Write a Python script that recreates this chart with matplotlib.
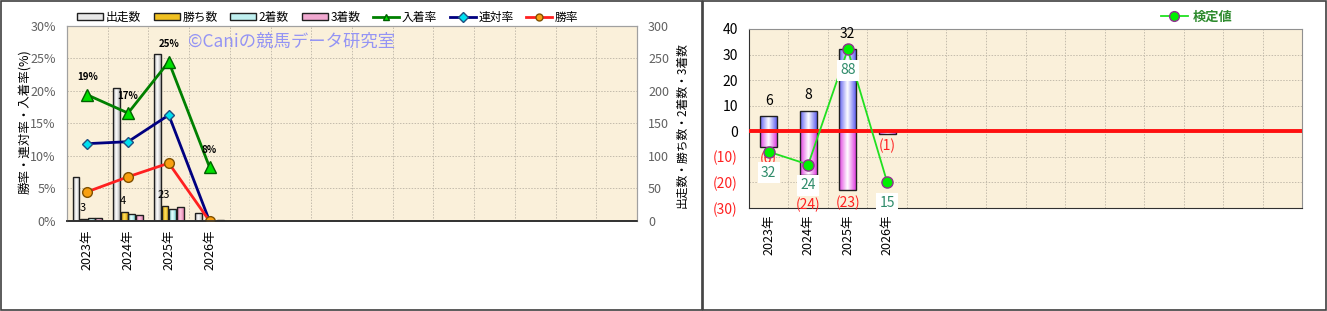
import numpy as np
import matplotlib
matplotlib.use('Agg')
import matplotlib.pyplot as plt
from matplotlib.colors import LinearSegmentedColormap
from matplotlib.patches import Rectangle
from matplotlib.lines import Line2D

plt.rcParams['font.family'] = ['Noto Sans CJK JP', 'DejaVu Sans']

# data
years = ['2023年', '2024年', '2025年', '2026年']
nCats = 14
runs = [67, 205, 257, 12]
wins = [3, 14, 23, 0]
winLabels = ['3', '4', '23', '']   # as printed on the chart
seconds = [5, 11, 19, 0]
thirds = [5, 9, 21, 1]
placeRate = [19.4, 16.6, 24.5, 8.3]
rentaiRate = [11.9, 12.2, 16.3, 0.0]
winRate = [4.5, 6.8, 8.9, 0.0]
placeLabels = ['19%', '17%', '25%', '8%']

posVals = [6, 8, 32, 0]
negVals = [-6, -17, -23, -1]
negLabels = [6, 24, 23, 1]
kentei = [-8, -13, 32, -20]
kenteiLabels = [32, 24, 88, 15]

BG = '#FAF0DA'
GRID = '#C4BCAC'


def gradBars(ax, x, h, w, bottom, edge, mid, z):
    cmap = LinearSegmentedColormap.from_list('g', [edge, mid, edge])
    grad = np.linspace(0, 1, 64).reshape(1, -1)
    bars = ax.bar(x, h, w, bottom=bottom, facecolor='none', edgecolor='#202020', lw=1, zorder=z + 0.1)
    for b in bars:
        x0, y0 = b.get_x(), b.get_y()
        x1, y1 = x0 + b.get_width(), y0 + b.get_height()
        im = ax.imshow(grad, extent=(x0, x1, min(y0, y1), max(y0, y1)), cmap=cmap,
                       aspect='auto', interpolation='bilinear', zorder=z)
        im.set_clip_path(b)
    return bars


def catGrid(ax):
    for k in range(1, nCats):
        ax.axvline(k - 0.5, color=GRID, ls=(0, (1.5, 1.5)), lw=0.7, zorder=0.5)


fig = plt.figure(figsize=(13.27, 3.11), dpi=100)
fig.add_artist(Rectangle((0.0008, 0.003), 0.528, 0.994, transform=fig.transFigure,
                         fill=False, ec='#404040', lw=1.2))
fig.add_artist(Rectangle((0.5295, 0.003), 0.4697, 0.994, transform=fig.transFigure,
                         fill=False, ec='#404040', lw=1.2))

# ---------------- left chart ----------------
ax2 = fig.add_axes([0.0505, 0.2894, 0.4295, 0.627])
ax = ax2.twinx()
ax2.yaxis.tick_right()
ax.yaxis.tick_left()
ax.set_zorder(ax2.get_zorder() + 1)
ax.patch.set_visible(False)
ax2.set_facecolor(BG)

xs = np.arange(len(years))
bw = 0.17
gradBars(ax2, xs - 0.28, runs, bw, 0, '#B4B4B4', '#FFFFFF', 2)
gradBars(ax2, xs - 0.093, wins, bw, 0, '#D8A000', '#FFE060', 2)
gradBars(ax2, xs + 0.093, seconds, bw, 0, '#80D8D8', '#E8FFFF', 2)
gradBars(ax2, xs + 0.28, thirds, bw, 0, '#E080B0', '#FFC8E0', 2)
for i, t in enumerate(winLabels):
    if t:
        ax2.annotate(t, (xs[i] - 0.12, wins[i]), xytext=(0, 4), textcoords='offset points',
                     ha='center', va='bottom', fontsize=8, zorder=5)

ax2.set_xlim(-0.5, nCats - 0.5)
ax2.set_ylim(0, 300)
ax2.set_yticks(np.arange(0, 301, 50))
ax2.yaxis.grid(True, color=GRID, ls=(0, (1.5, 1.5)), lw=0.7)
ax2.set_axisbelow(True)
catGrid(ax2)

ax.plot(xs, placeRate, color='#008000', lw=2, marker='^', ms=8, mfc='#00E000', mec='#006000', label='入着率')
ax.plot(xs, rentaiRate, color='#000080', lw=2, marker='D', ms=5, mfc='#00E0F0', mec='#205080', label='連対率')
ax.plot(xs, winRate, color='#FF2020', lw=2, marker='o', ms=7, mfc='#F8A010', mec='#805000', label='勝率')
for i, t in enumerate(placeLabels):
    ax.annotate(t, (xs[i], placeRate[i]), xytext=(0, 9), textcoords='offset points',
                ha='center', va='bottom', fontsize=7, fontweight='bold')
ax.set_ylim(0, 30)
ax.set_yticks(np.arange(0, 31, 5))
ax.set_yticklabels(['%d%%' % v for v in range(0, 31, 5)])
ax.set_xlim(-0.5, nCats - 0.5)
ax2.set_xticks(xs)
ax2.set_xticklabels(years, rotation=90, fontsize=9)
ax2.tick_params(axis='x', length=0, pad=6)
ax2.tick_params(axis='y', length=0, labelsize=9, labelcolor='#606060', pad=8)
ax.tick_params(axis='y', length=0, labelsize=9, labelcolor='#606060', pad=8)
for a in (ax, ax2):
    for s in a.spines.values():
        s.set_color('#A0A0A0')
    a.spines['bottom'].set_color('#303030')
    a.spines['bottom'].set_linewidth(1.2)

ax.text(0.213, 0.918, '©Caniの競馬データ研究室', transform=ax.transAxes, color='#9494F4',
        fontsize=12.5, va='center', ha='left', zorder=1)
fig.text(25 / 1327, 1 - 122 / 311, '勝率・連対率・入着率(%)', rotation=90, ha='center', va='center', fontsize=9)
fig.text(682 / 1327, 1 - 125 / 311, '出走数・勝ち数・2着数・3着数', rotation=90, ha='center', va='center', fontsize=8.5)

handles = [
    Rectangle((0, 0), 1, 1, fc='#E8E8E8', ec='#202020'),
    Rectangle((0, 0), 1, 1, fc='#F0C020', ec='#202020'),
    Rectangle((0, 0), 1, 1, fc='#C0F0F0', ec='#202020'),
    Rectangle((0, 0), 1, 1, fc='#F0A8D0', ec='#202020'),
] + ax.get_lines()[:3]
labels = ['出走数', '勝ち数', '2着数', '3着数', '入着率', '連対率', '勝率']
leg = fig.legend(handles, labels, loc='center', bbox_to_anchor=(0.247, 0.945), ncol=7, frameon=False,
                 fontsize=8.5, handlelength=2.2, handleheight=0.5, handletextpad=0.2, columnspacing=1.1)
for l in leg.get_lines():
    l.set_markersize(5)

# ---------------- right chart ----------------
bx = fig.add_axes([0.5644, 0.3312, 0.4168, 0.5756])
bx.set_facecolor(BG)
gradBars(bx, xs, posVals, 0.42, 0, '#6060F0', '#FFFFFF', 2)
gradBars(bx, xs, negVals, 0.42, 0, '#E040E0', '#FFFFFF', 2)
bx.axhline(0, color='#FF1010', lw=2.8, zorder=3)
for i, v in enumerate(posVals):
    if v > 0:
        bx.annotate(str(v), (xs[i], v), xytext=(0, 6), textcoords='offset points',
                    ha='center', va='bottom', fontsize=10)
for i, v in enumerate(negLabels):
    bx.annotate('(%d)' % v, (xs[i], -v), xytext=(0, -9), textcoords='offset points',
                ha='center', va='center', fontsize=10, color='#FF2020', zorder=3.5)
kLine, = bx.plot(xs, kentei, color='#20E020', lw=1.3, marker='o', ms=8, mfc='#00F000', mec='#903090',
                 mew=1, zorder=4, label='検定値')
for i, v in enumerate(kenteiLabels):
    bx.annotate(str(v), (xs[i], kentei[i]), xytext=(0, -15), textcoords='offset points',
                ha='center', va='center', fontsize=10, color='#2E8B6A', zorder=4.5,
                bbox=dict(boxstyle='square,pad=0.25', fc='white', ec='none'))
bx.set_xlim(-0.5, nCats - 0.5)
bx.set_ylim(-30, 40)
yt = np.arange(-30, 41, 10)
bx.set_yticks(yt)
bx.set_yticklabels([str(v) if v >= 0 else '(%d)' % -v for v in yt])
for t, v in zip(bx.get_yticklabels(), yt):
    t.set_color('#FF2020' if v < 0 else 'black')
bx.yaxis.grid(True, color=GRID, ls=(0, (1.5, 1.5)), lw=0.7)
bx.set_axisbelow(True)
catGrid(bx)
bx.set_xticks(xs)
bx.set_xticklabels(years, rotation=90, fontsize=9)
bx.tick_params(axis='x', length=0, pad=5)
bx.tick_params(axis='y', length=0, labelsize=10, pad=8)
for s in bx.spines.values():
    s.set_color('#909090')
bx.spines['bottom'].set_color('#303030')
bx.spines['left'].set_color('#303030')
leg2 = fig.legend(handles=[kLine], labels=['検定値'], loc='center', bbox_to_anchor=(0.902, 0.945), frameon=False,
                  fontsize=9.5, handlelength=2.0, handletextpad=0.4)
for t in leg2.get_texts():
    t.set_color('#2E8B2E')
    t.set_fontweight('bold')
for l in leg2.get_lines():
    l.set_markersize(7)

fig.savefig('out.png', dpi=100)
